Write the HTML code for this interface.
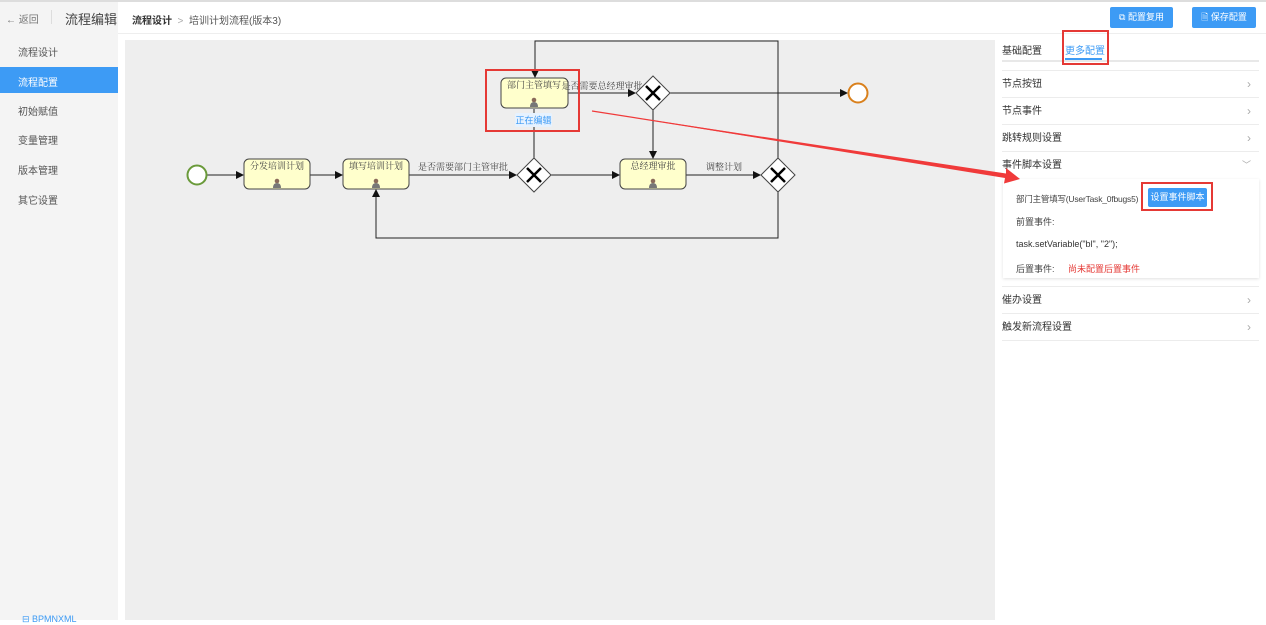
<!DOCTYPE html>
<html><head><meta charset="utf-8"><style>
*{margin:0;padding:0;box-sizing:border-box}
body{width:1266px;height:620px;overflow:hidden;background:#fff;font-family:"Liberation Sans","Noto Sans CJK SC",sans-serif;font-size:10px;color:#333;position:relative}
.a{position:absolute;white-space:nowrap}
.side{left:0;top:34px;width:118px;height:586px;background:#f4f4f4}
.row{position:absolute;left:1002px;width:257px;height:27px;border-bottom:1px solid #ececec;font-size:10px;line-height:27px;color:#333}
.row span{position:absolute;right:8px;color:#aaa;font-size:12px}
.btn{position:absolute;background:#3d9bf5;color:#fff;border-radius:2px;font-size:9px;text-align:center}
</style></head><body>
<div class="a" style="left:0;top:0;width:1266px;height:2px;background:#ddd"></div>
<div class="a" style="left:0;top:33px;width:1266px;height:1px;background:#eee"></div>
<div class="a" style="left:0;top:2px;width:118px;height:32px;background:#f4f4f4"></div>
<div class="a" style="left:6px;top:11px;color:#777;font-size:10px">← 返回</div>
<div class="a" style="left:51px;top:10px;width:1px;height:14px;background:#ddd"></div>
<div class="a" style="left:65px;top:9px;font-size:13px;color:#444">流程编辑</div>
<div class="a" style="left:132px;top:12px;font-size:10px;font-weight:bold;color:#333">流程设计 <span style="color:#aaa;font-weight:normal">&nbsp;&gt;&nbsp;</span> <span style="font-weight:normal;color:#555">培训计划流程(版本3)</span></div>
<div class="btn" style="left:1110px;top:7px;width:63px;height:21px;line-height:21px">⧉ 配置复用</div>
<div class="btn" style="left:1192px;top:7px;width:64px;height:21px;line-height:21px">🗎 保存配置</div>
<div class="a side"></div>
<div class="a" style="left:0;top:67px;width:118px;height:26px;background:#3d9bf5"></div>
<div class="a" style="left:18px;top:44px;color:#555">流程设计</div>
<div class="a" style="left:18px;top:74px;color:#fff">流程配置</div>
<div class="a" style="left:18px;top:103px;color:#555">初始赋值</div>
<div class="a" style="left:18px;top:132px;color:#555">变量管理</div>
<div class="a" style="left:18px;top:162px;color:#555">版本管理</div>
<div class="a" style="left:18px;top:192px;color:#555">其它设置</div>
<div class="a" style="left:22px;top:614px;color:#3d9bf5;font-size:9px">⊟ BPMNXML</div>
<div class="a" style="left:125px;top:40px;width:870px;height:580px;background:#eeeeee"></div>
<!-- right panel -->
<div class="a" style="left:1002px;top:42px;color:#333">基础配置</div>
<div class="a" style="left:1065px;top:42px;color:#3d9bf5">更多配置</div>
<div class="a" style="left:1065px;top:58px;width:37px;height:2px;background:#3d9bf5"></div>
<div class="a" style="left:1002px;top:60px;width:257px;height:2px;background:#e8e8e8"></div>
<div class="a" style="left:1062px;top:30px;width:47px;height:35px;border:2px solid #e53935"></div>
<div class="a" style="left:1002px;top:70px;width:257px;height:1px;background:#ececec"></div>
<div class="row" style="top:71px">节点按钮<span>›</span></div>
<div class="row" style="top:98px">节点事件<span>›</span></div>
<div class="row" style="top:125px">跳转规则设置<span>›</span></div>
<div class="row" style="top:152px;border-bottom:none">事件脚本设置<span style="font-size:9px">﹀</span></div>
<div class="a" style="left:1003px;top:179px;width:256px;height:99px;background:#fff;box-shadow:0 1px 3px rgba(0,0,0,.12)"></div>
<div class="a" style="left:1016px;top:193px;font-size:8.5px;color:#444;letter-spacing:-0.2px">部门主管填写(UserTask_0fbugs5)</div>
<div class="btn" style="left:1148px;top:188px;width:59px;height:19px;line-height:19px">设置事件脚本</div>
<div class="a" style="left:1141px;top:182px;width:72px;height:29px;border:2px solid #e53935"></div>
<div class="a" style="left:1016px;top:215px;font-size:9px;color:#444">前置事件:</div>
<div class="a" style="left:1016px;top:239px;font-size:9px;color:#333">task.setVariable("bl", "2");</div>
<div class="a" style="left:1016px;top:262px;font-size:9px;color:#444">后置事件:</div>
<div class="a" style="left:1068px;top:262px;font-size:9px;color:#e53935">尚未配置后置事件</div>
<div class="a" style="left:1002px;top:286px;width:257px;height:1px;background:#ececec"></div>
<div class="row" style="top:287px">催办设置<span>›</span></div>
<div class="row" style="top:314px">触发新流程设置<span>›</span></div>
<svg class="a" style="left:0;top:0" width="1266" height="620" font-family="Liberation Serif,Noto Serif CJK SC,serif">
<defs><marker id="m" markerWidth="8" markerHeight="8" refX="7" refY="4" orient="auto" markerUnits="userSpaceOnUse"><path d="M0,0L8,4L0,8z" fill="#111"/></marker>
<g id="p"><circle cx="0" cy="-3" r="2.3" fill="#8a6a5a"/><path d="M-4,4 Q-4,-1 0,-1 Q4,-1 4,4z" fill="#777"/></g></defs>
<g stroke="#222" stroke-width="1" fill="none">
<line x1="207" y1="175" x2="243" y2="175" marker-end="url(#m)"/>
<line x1="310" y1="175" x2="342" y2="175" marker-end="url(#m)"/>
<line x1="409" y1="175" x2="516" y2="175" marker-end="url(#m)"/>
<line x1="551" y1="175" x2="619" y2="175" marker-end="url(#m)"/>
<line x1="686" y1="175" x2="760" y2="175" marker-end="url(#m)"/>
<line x1="534" y1="158" x2="534" y2="109"/>
<line x1="567" y1="93" x2="635" y2="93" marker-end="url(#m)"/>
<line x1="670" y1="93" x2="847" y2="93" marker-end="url(#m)"/>
<line x1="653" y1="110" x2="653" y2="158" marker-end="url(#m)"/>
<polyline points="778,158 778,41 535,41 535,77" marker-end="url(#m)"/>
<polyline points="778,192 778,238 376,238 376,190" marker-end="url(#m)"/>
</g>
<circle cx="197" cy="175" r="9.5" fill="#fff" stroke="#6a9a3a" stroke-width="2"/>
<circle cx="858" cy="93" r="9.5" fill="#fff" stroke="#d9801c" stroke-width="2"/>
<g fill="#ffffcc" stroke="#444" stroke-width="1">
<rect x="244" y="159" width="66" height="30" rx="5"/>
<rect x="343" y="159" width="66" height="30" rx="5"/>
<rect x="620" y="159" width="66" height="30" rx="5"/>
<rect x="501" y="78" width="67" height="30" rx="5"/>
</g>
<g font-size="9" fill="#444" text-anchor="middle">
<text x="277" y="169">分发培训计划</text><text x="376" y="169">填写培训计划</text>
<text x="653" y="169">总经理审批</text><text x="534" y="88">部门主管填写</text>
<text x="463" y="170">是否需要部门主管审批</text><text x="724" y="170">调整计划</text>
<text x="602" y="89">是否需要总经理审批</text>
</g>
<use href="#p" x="277" y="184"/><use href="#p" x="376" y="184"/><use href="#p" x="653" y="184"/><use href="#p" x="534" y="103"/>
<g fill="#fff" stroke="#444"><path d="M534,158L551,175L534,192L517,175z"/><path d="M778,158L795,175L778,192L761,175z"/><path d="M653,76L670,93L653,110L636,93z"/></g>
<g stroke="#000" stroke-width="2.5"><path d="M527,168L541,182M541,168L527,182M771,168L785,182M785,168L771,182M646,86L660,100M660,86L646,100"/></g>
<rect x="515" y="113" width="37" height="14" rx="2" fill="#e6f2ff"/>
<text x="533.5" y="123.5" font-size="9" fill="#3d9bf5" text-anchor="middle" font-family="Liberation Sans,Noto Sans CJK SC,sans-serif">正在编辑</text>
<rect x="486" y="70" width="93" height="61" fill="none" stroke="#e53935" stroke-width="2"/>
<path d="M592,111L1006,173.5L1006,168L1020,179L1004,183.5L1005,178Z" fill="#f03a3a"/>
<path d="M592,111L1006,176" stroke="#f03a3a" stroke-width="1.2"/>
</svg>
</body></html>
